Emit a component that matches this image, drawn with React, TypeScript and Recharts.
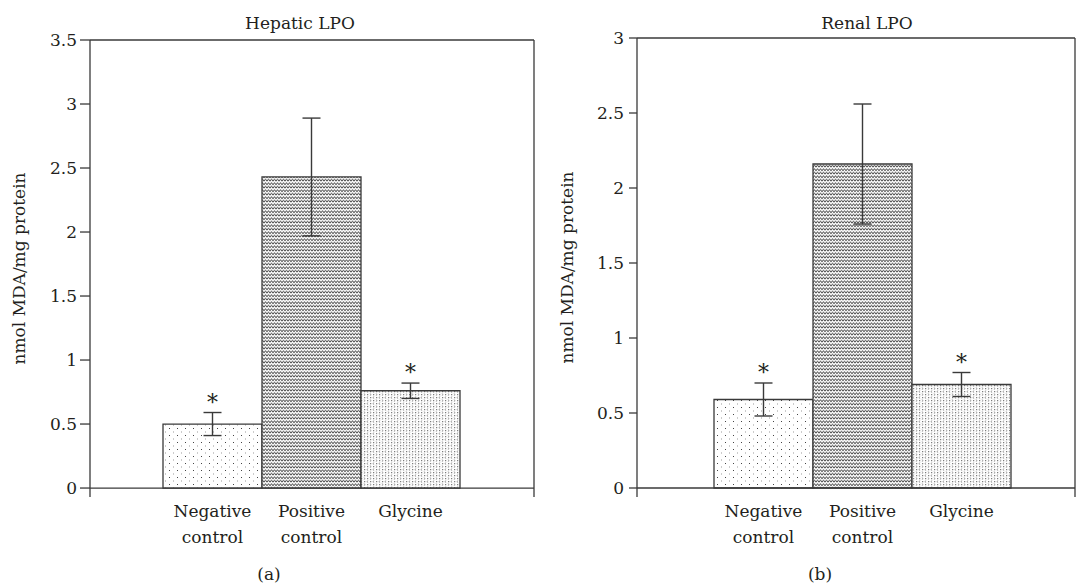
import React from 'react';
import { BarChart, Bar, XAxis, YAxis, ErrorBar, Cell, LabelList, ReferenceLine, CartesianGrid } from 'recharts';

const groups = ['Negative control', 'Positive control', 'Glycine'];
const hepaticMean = [0.5, 2.43, 0.76];
const hepaticSem = [0.09, 0.46, 0.06];
const renalMean = [0.59, 2.16, 0.69];
const renalSem = [0.11, 0.4, 0.08];
const significance = ['*', '', '*'];
const hepaticTicks = [0, 0.5, 1, 1.5, 2, 2.5, 3, 3.5];
const renalTicks = [0, 0.5, 1, 1.5, 2, 2.5, 3];
const patternIds = ['dots', 'waves', 'checks'];

const FONT = '"DejaVu Serif", serif';
const INK = '#231f20';
const LINE = '#3a3a3a';

type Row = { group: string; mean: number; sem: number; star: string };

const toRows = (means: number[], sems: number[]): Row[] =>
  groups.map((g, i) => ({ group: g, mean: means[i], sem: sems[i], star: significance[i] }));

const CategoryTick = (props: any) => {
  const { x, y, payload } = props;
  const words = String(payload.value).split(' ');
  return (
    <text x={x} y={y} textAnchor="middle" fill={INK} fontSize={17} fontFamily={FONT}>
      {words.map((w, i) => (
        <tspan key={i} x={x} dy={i === 0 ? 20 : 26}>
          {w}
        </tspan>
      ))}
    </text>
  );
};

// box frame: top edge and right edge of the plot area
const topEdge = ({ offset }: any) => [offset.top];
const rightEdge = ({ offset }: any) => [offset.left + offset.width];

function Panel(props: {
  rows: Row[];
  ticks: number[];
  domain: [number, number];
  width: number;
  margin: any;
  axisWidth: number;
  pad: { left: number; right: number };
  tickSize: number;
  tickMargin: number;
  labelOffset: number;
}) {
  const { rows, ticks, domain, width, margin, axisWidth, pad, tickSize, tickMargin, labelOffset } = props;
  const frame = { stroke: LINE, strokeWidth: 1.3 };

  const star = (p: any) => {
    const { x, y, width: w, height: h, value, index } = p;
    if (!value) return null;
    const r = rows[index];
    const perUnit = Number(h) / r.mean;
    const top = Number(y) - r.sem * perUnit;
    return (
      <text x={Number(x) + Number(w) / 2} y={top - 3} textAnchor="middle" fontSize={22} fontFamily={FONT} fill={INK}>
        {value}
      </text>
    );
  };

  return (
    <BarChart width={width} height={586} data={rows} margin={margin} barCategoryGap={0}>
      <CartesianGrid
        stroke={LINE}
        strokeWidth={1.3}
        horizontalCoordinatesGenerator={topEdge}
        verticalCoordinatesGenerator={rightEdge}
      />
      <XAxis
        dataKey="group"
        height={89}
        axisLine={false}
        tickLine={false}
        tickSize={0}
        tickMargin={0}
        interval={0}
        padding={pad}
        tick={<CategoryTick />}
      />
      <YAxis
        domain={domain}
        ticks={ticks}
        width={axisWidth}
        allowDataOverflow
        axisLine={frame}
        tickLine={frame}
        tickSize={tickSize}
        tickMargin={tickMargin}
        tick={{ fontSize: 17, fontFamily: FONT, fill: INK }}
        label={{
          value: 'nmol MDA/mg protein',
          angle: -90,
          position: 'insideLeft',
          offset: labelOffset,
          style: { textAnchor: 'middle', fontSize: 17, fontFamily: FONT, fill: INK },
        }}
      />
      <ReferenceLine y={0} stroke={LINE} strokeWidth={1.3} />
      <Bar dataKey="mean" isAnimationActive={false}>
        {rows.map((r, i) => (
          <Cell key={r.group} fill={`url(#${patternIds[i]})`} stroke={LINE} strokeWidth={1.3} />
        ))}
        <ErrorBar dataKey="sem" width={9} stroke={LINE} strokeWidth={1.4} direction="y" />
        <LabelList dataKey="star" content={star} />
      </Bar>
    </BarChart>
  );
}

export default function App() {
  return (
    <div style={{ position: 'absolute', left: 0, top: 0, width: 1076, height: 586, background: '#fff' }}>
      <svg width={0} height={0} style={{ position: 'absolute' }}>
        <defs>
          <pattern id="dots" patternUnits="userSpaceOnUse" width={8} height={7}>
            <rect width={8} height={7} fill="#fff" />
            <rect x={1} y={1} width={1} height={1} fill="#444" />
            <rect x={5} y={4.5} width={1} height={1} fill="#999" />
          </pattern>
          <pattern id="waves" patternUnits="userSpaceOnUse" width={3} height={3.5}>
            <rect width={3} height={3.5} fill="#fff" />
            <path d="M0,2.9 L1.5,0.6 L3,2.9" stroke="#2a2a2a" strokeWidth={0.85} fill="none" />
          </pattern>
          <pattern id="checks" patternUnits="userSpaceOnUse" width={6} height={6}>
            <rect width={6} height={6} fill="#fff" />
            <path d="M2.2,0.6 L0.8,1.6 L2.2,2.6" stroke="#888" strokeWidth={0.8} fill="none" />
            <rect x={4.2} y={1.2} width={1} height={1} fill="#333" />
            <path d="M3.8,3.6 L5.2,4.6 L3.8,5.6" stroke="#888" strokeWidth={0.8} fill="none" />
            <rect x={1.2} y={4.2} width={1} height={1} fill="#333" />
          </pattern>
        </defs>
      </svg>

      <div style={{ position: 'absolute', left: 0, top: 0 }}>
        <Panel
          rows={toRows(hepaticMean, hepaticSem)}
          ticks={hepaticTicks}
          domain={[-0.07, 3.5]}
          width={540}
          margin={{ top: 40, right: 6, left: 0, bottom: 0 }}
          axisWidth={90}
          pad={{ left: 73, right: 74 }}
          tickSize={10}
          tickMargin={3}
          labelOffset={19}
        />
      </div>
      <div style={{ position: 'absolute', left: 540, top: 0 }}>
        <Panel
          rows={toRows(renalMean, renalSem)}
          ticks={renalTicks}
          domain={[-0.06, 3]}
          width={536}
          margin={{ top: 38, right: 1, left: 0, bottom: 0 }}
          axisWidth={97}
          pad={{ left: 77, right: 64 }}
          tickSize={8}
          tickMargin={5}
          labelOffset={27}
        />
      </div>

      <svg width={1076} height={586} style={{ position: 'absolute', left: 0, top: 0, pointerEvents: 'none' }}>
        <g fontFamily={FONT} fontSize={17} fill={INK} textAnchor="middle">
          <text x={300} y={29}>Hepatic LPO</text>
          <text x={867} y={29}>Renal LPO</text>
          <text x={269} y={580}>(a)</text>
          <text x={820} y={580}>(b)</text>
        </g>
      </svg>
    </div>
  );
}
